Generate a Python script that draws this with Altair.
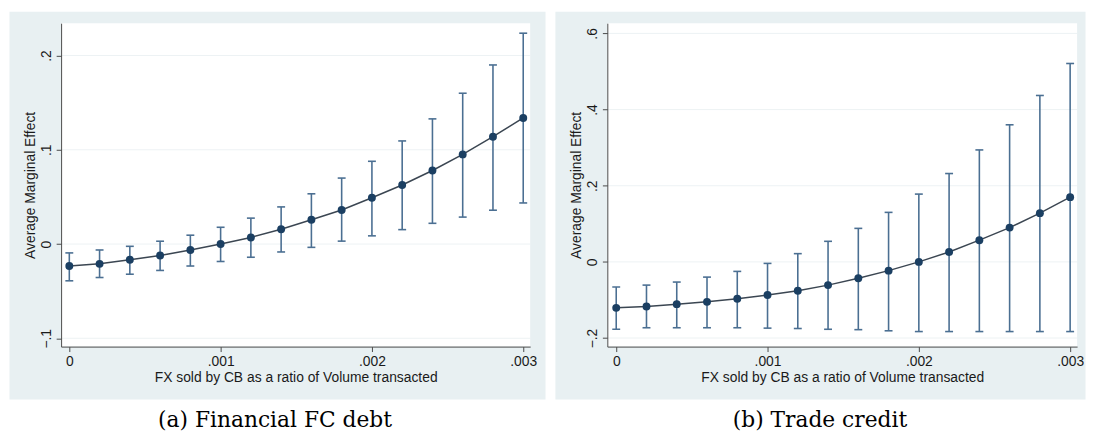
import altair as alt
import pandas as pd

# ---------------- data ----------------
X_VALUES = [0.0, 0.0002, 0.0004, 0.0006, 0.0008, 0.0010, 0.0012, 0.0014,
            0.0016, 0.0018, 0.0020, 0.0022, 0.0024, 0.0026, 0.0028, 0.0030]

# (a) Financial FC debt
A_MEAN = [-0.0233, -0.0210, -0.0167, -0.0122, -0.0063, 0.0000, 0.0070, 0.0157,
          0.0258, 0.0362, 0.0491, 0.0627, 0.0780, 0.0951, 0.1139, 0.1338]
A_HI = [-0.0094, -0.0063, -0.0024, 0.0030, 0.0094, 0.0178, 0.0275, 0.0394,
        0.0533, 0.0700, 0.0878, 0.1094, 0.1328, 0.1600, 0.1900, 0.2237]
A_LO = [-0.0390, -0.0355, -0.0320, -0.0280, -0.0233, -0.0185, -0.0140, -0.0084,
        -0.0035, 0.0031, 0.0087, 0.0153, 0.0220, 0.0286, 0.0359, 0.0436]

# (b) Trade credit
B_MEAN = [-0.1207, -0.1170, -0.1110, -0.1050, -0.0970, -0.0870, -0.0760, -0.0610,
          -0.0430, -0.0230, 0.0000, 0.0260, 0.0570, 0.0900, 0.1280, 0.1700]
B_HI = [-0.0660, -0.0610, -0.0530, -0.0400, -0.0250, -0.0040, 0.0216, 0.0540,
        0.0880, 0.1300, 0.1780, 0.2320, 0.2940, 0.3600, 0.4370, 0.5210]
B_LO = [-0.1770, -0.1730, -0.1730, -0.1730, -0.1730, -0.1740, -0.1750, -0.1770,
        -0.1780, -0.1810, -0.1830, -0.1830, -0.1830, -0.1830, -0.1830, -0.1830]

CAPTIONS = ["(a) Financial FC debt", "(b) Trade credit"]
X_TITLE = "FX sold by CB as a ratio of Volume transacted"
Y_TITLE = "Average Marginal Effect"
X_TICKS = [0, 0.001, 0.002, 0.003]
A_Y_TICKS = [-0.1, 0, 0.1, 0.2]
B_Y_TICKS = [-0.2, 0, 0.2, 0.4, 0.6]

# ---------------- styling ----------------
PANEL_BG = "#e8f0f2"
GRID = "#edf2f4"
CI_COLOR = "#4b6f92"
LINE_COLOR = "#3b4652"
PT_COLOR = "#1b3f62"
AXIS_COLOR = "#4a4a4a"
FONT = "Liberation Sans, Arial, sans-serif"
FS = 14

LABEL_EXPR = ("datum.value == 0 ? '0' : replace(format(datum.value, '{fmt}'), '0.', '.')")


def panel(mean, lo, hi, x_dom, y_dom, x_rng, y_rng, y_ticks, y_fmt,
          width, height, caption, x_off, y_off, cap_dx):
    df = pd.DataFrame({"x": X_VALUES, "m": mean, "lo": lo, "hi": hi})
    frame = pd.DataFrame({"x0": [x_dom[0]], "x1": [x_dom[1]],
                          "y0": [y_dom[0]], "y1": [y_dom[1]]})
    grid = pd.DataFrame({"g": y_ticks, "x0": [x_dom[0]] * len(y_ticks),
                         "x1": [x_dom[1]] * len(y_ticks)})

    xs = alt.Scale(domain=x_dom, range=x_rng, nice=False, zero=False)
    ys = alt.Scale(domain=y_dom, range=y_rng, nice=False, zero=False)
    xa = alt.Axis(values=X_TICKS, title=X_TITLE, offset=x_off, grid=False,
                  labelExpr=LABEL_EXPR.format(fmt=".3f"), labelOverlap=False,
                  labelFont=FONT, labelFontSize=FS, labelColor="#1a1a1a",
                  titleFont=FONT, titleFontSize=FS, titleFontWeight="normal",
                  titleColor="#1a1a1a", tickSize=5, tickColor=AXIS_COLOR,
                  domainColor=AXIS_COLOR, labelPadding=3, titlePadding=2,
                  zindex=1, labelFlush=False)
    ya = alt.Axis(values=y_ticks, title=Y_TITLE, offset=y_off, grid=False,
                  labelExpr=LABEL_EXPR.format(fmt=y_fmt), labelOverlap=False,
                  labelAngle=270, labelAlign="center", labelBaseline="bottom",
                  labelFont=FONT, labelFontSize=FS, labelColor="#1a1a1a",
                  titleFont=FONT, titleFontSize=FS, titleFontWeight="normal",
                  titleColor="#1a1a1a", tickSize=5, tickColor=AXIS_COLOR,
                  domainColor=AXIS_COLOR, labelPadding=3, titlePadding=2,
                  zindex=1, labelFlush=False)

    def X(f):
        return alt.X(f, type="quantitative", scale=xs, axis=xa)

    def Y(f):
        return alt.Y(f, type="quantitative", scale=ys, axis=ya)

    bg = alt.Chart(frame).mark_rect(color="white").encode(
        x=X("x0"), x2="x1", y=Y("y0"), y2="y1")
    gl = alt.Chart(grid).mark_rule(color=GRID, strokeWidth=1).encode(
        x=X("x0"), x2="x1", y=Y("g"))
    ci = alt.Chart(df).mark_rule(color=CI_COLOR, strokeWidth=1.6).encode(
        x=X("x"), y=Y("lo"), y2="hi")
    cap_lo = alt.Chart(df).mark_tick(orient="horizontal", size=8, thickness=1.6,
                                     color=CI_COLOR, opacity=1).encode(
        x=X("x"), y=Y("lo"))
    cap_hi = alt.Chart(df).mark_tick(orient="horizontal", size=8, thickness=1.6,
                                     color=CI_COLOR, opacity=1).encode(
        x=X("x"), y=Y("hi"))
    line = alt.Chart(df).mark_line(color=LINE_COLOR, strokeWidth=1.5).encode(
        x=X("x"), y=Y("m"))
    pts = alt.Chart(df).mark_circle(color=PT_COLOR, size=64, opacity=1).encode(
        x=X("x"), y=Y("m"))

    return alt.layer(bg, gl, ci, cap_lo, cap_hi, line, pts).properties(
        width=width, height=height,
        title=alt.TitleParams(caption, orient="bottom", anchor="middle",
                              font="DejaVu Serif", fontSize=22,
                              fontWeight="normal", color="black",
                              offset=11, dx=cap_dx))


pa = panel(A_MEAN, A_LO, A_HI,
           x_dom=[-0.0000542, 0.003046], y_dom=[-0.1088, 0.2343],
           x_rng=[52.7, 527], y_rng=[339, 12], y_ticks=A_Y_TICKS, y_fmt=".1f",
           width=542, height=392, caption=CAPTIONS[0],
           x_off=-53, y_off=-52.7, cap_dx=-2)
pb = panel(B_MEAN, B_LO, B_HI,
           x_dom=[-0.0000588, 0.003046], y_dom=[-0.2225, 0.6268],
           x_rng=[53, 528], y_rng=[339, 12], y_ticks=B_Y_TICKS, y_fmt=".1f",
           width=536, height=392, caption=CAPTIONS[1],
           x_off=-53, y_off=-53, cap_dx=0)

chart = alt.hconcat(pa, pb, spacing=8).properties(padding=0).configure(
    background="white").configure_view(fill=PANEL_BG, stroke="transparent")

chart.save("out.html", embed_options={"renderer": "svg", "actions": False})
